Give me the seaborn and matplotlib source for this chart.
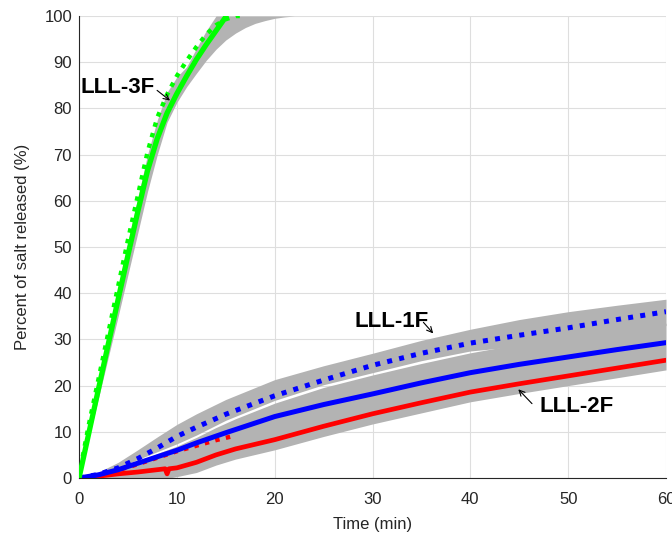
import numpy as np
import pandas as pd
import matplotlib
matplotlib.use("Agg")
import matplotlib.pyplot as plt
import seaborn as sns

# ---------------- data ----------------
t_green = [0, 1, 2, 3, 4, 5, 6, 7, 8, 9, 10, 11, 12, 13, 14, 15]
green_solid = [0, 9.7, 19.4, 29.1, 38.7, 48.2, 57.6, 66.5, 73.5, 79.0, 83.2, 87.0, 90.6, 93.8, 96.8, 99.8]

t_green_d = [0, 0.5, 1, 2, 3, 4, 5, 6, 7, 8, 9, 10, 11, 12, 13, 14, 15, 16, 17]
green_dash = [0, 6, 11.5, 21.5, 31.5, 41.5, 51.5, 61, 70.5, 78.0, 83.0, 87.0, 90.3, 93.3, 96, 98, 99.3, 100, 100]

t_gband = list(range(0, 24))
gband_upper = [0, 10.8, 21.2, 31.2, 41.2, 51.0, 60.6, 70.0, 77.5, 83.5, 86.8, 89.0, 93.0, 96.8,
               100, 100, 100, 100, 100, 100, 100, 100, 100, 100]
gband_lower = [0, 8.7, 17.4, 26.2, 35.0, 44.0, 53.0, 62.0, 70.0, 77.0, 81.3, 84.7, 87.6, 90.4,
               92.8, 94.8, 96.3, 97.5, 98.4, 99.0, 99.5, 99.8, 100, 100]

t_low = [0, 2, 4, 6, 8, 10, 12, 15, 20, 25, 30, 35, 40, 45, 50, 55, 60]
blue_solid = [0, 0.7, 1.8, 3.2, 4.6, 6.0, 7.6, 9.8, 13.3, 15.9, 18.2, 20.6, 22.8, 24.6, 26.2, 27.8, 29.3]
blue_dash = [0, 0.8, 2.2, 4.2, 6.5, 9.0, 11.0, 13.8, 17.8, 21.2, 24.4, 27.0, 29.2, 30.9, 32.5, 34.3, 36.0]
bandA_upper = [0, 1.3, 3.4, 6.1, 8.9, 11.6, 13.9, 17.0, 21.3, 24.3, 27.0, 29.8, 32.2, 34.3, 36.0, 37.4, 38.7]
bandA_lower = [0, 0.5, 2.2, 4.0, 5.7, 7.4, 9.3, 12.5, 16.8, 20.2, 22.8, 25.4, 27.5, 28.5, 30.0, 31.5, 33.0]
bandB_upper = [0, 0.4, 2.0, 3.6, 5.3, 6.9, 8.8, 12.0, 16.2, 19.6, 22.3, 24.8, 27.1, 29.0, 30.5, 32.0, 33.5]

t_red = [0, 2, 4, 6, 8, 8.8, 9.0, 9.2, 10, 12, 14, 16, 18, 20, 25, 30, 35, 40, 45, 50, 55, 60]
red_solid = [0, 0.4, 0.9, 1.3, 1.8, 2.0, 0.9, 2.0, 2.2, 3.4, 5.0, 6.3, 7.3, 8.3, 11.2, 13.9, 16.3,
             18.6, 20.4, 22.1, 23.8, 25.5]
bandB_lower = [0, 0, 0, 0, 0, 0, 0, 0, 0.3, 1.2, 2.8, 4.1, 5.1, 6.1, 9.0, 11.7, 14.1,
               16.5, 18.3, 20.0, 21.7, 23.4]

t_red_d = [0, 2, 4, 6, 8, 10, 12, 14, 16]
red_dash = [0, 0.6, 1.7, 3.0, 4.4, 5.8, 7.0, 8.2, 9.2]

labels = ["LLL-3F", "LLL-1F", "LLL-2F"]
x_ticks = [0, 10, 20, 30, 40, 50, 60]
y_ticks = [0, 10, 20, 30, 40, 50, 60, 70, 80, 90, 100]

# ---------------- styling ----------------
sns.set_style("white")
plt.rcParams["font.family"] = ["Liberation Sans", "DejaVu Sans"]
axis_col = "#262626"
gray = "#b3b3b3"

fig = plt.figure(figsize=(6.72, 5.35), dpi=100)
ax = fig.add_axes([0.1176, 0.1065, 0.8735, 0.8636])

# gray bands
ax.fill_between(t_gband, gband_lower, gband_upper, color=gray, lw=0, zorder=1)
ax.fill_between(t_low, bandA_lower, bandA_upper, color=gray, lw=0, zorder=1)
tB = np.array(t_red, dtype=float)
bandB_up_i = np.interp(tB, t_low, bandB_upper)
ax.fill_between(tB, bandB_lower, bandB_up_i, color=gray, lw=0, zorder=1)

dot = (0, (1, 1.45))

def line(t, y, color, ls, lw, z):
    df = pd.DataFrame({"t": t, "y": y})
    sns.lineplot(data=df, x="t", y="y", ax=ax, color=color, lw=lw,
                 estimator=None, sort=False, zorder=z)
    ax.lines[-1].set_linestyle(ls)

line(t_red_d, red_dash, "#ff0000", dot, 3.2, 2)
line(t_green_d, green_dash, "#00ff00", dot, 3.2, 2)
line(t_red, red_solid, "#ff0000", "-", 3.4, 3)
line(t_low, blue_solid, "#0000ff", "-", 3.6, 4)
line(t_low, blue_dash, "#0000ff", dot, 3.6, 5)
line(t_green, green_solid, "#00ff00", "-", 3.8, 6)

# annotations
txt_kw = dict(fontsize=16, fontweight="bold", color="black", ha="left", va="center", zorder=10)
ax.text(0.15, 84.5, labels[0], **txt_kw)
ax.text(28.2, 33.9, labels[1], **txt_kw)
ax.text(47.1, 15.5, labels[2], **txt_kw)
arr = dict(arrowstyle="->", lw=0.8, color="black", shrinkA=0, shrinkB=0)
ax.annotate("", xy=(9.3, 81.7), xytext=(7.98, 83.9), arrowprops=arr, zorder=10)
ax.annotate("", xy=(36.2, 31.3), xytext=(35.2, 33.7), arrowprops=arr, zorder=10)
ax.annotate("", xy=(44.9, 19.2), xytext=(46.3, 16.1), arrowprops=arr, zorder=10)

ax.set_xlim(0, 60)
ax.set_ylim(0, 100)
ax.set_xticks(x_ticks)
ax.set_yticks(y_ticks)
ax.grid(True, color="#dedede", lw=0.8)
ax.set_axisbelow(True)
ax.tick_params(direction="in", length=4, width=0.8, colors=axis_col, labelsize=12,
               labelcolor=axis_col, top=False, right=False)
ax.tick_params(axis="x", pad=10)
ax.tick_params(axis="y", pad=5)
for s in ["top", "right"]:
    ax.spines[s].set_visible(False)
for s in ["left", "bottom"]:
    ax.spines[s].set_color(axis_col)
    ax.spines[s].set_linewidth(0.8)
ax.set_xlabel("Time (min)", fontsize=12, color=axis_col, labelpad=7)
ax.set_ylabel("Percent of salt released (%)", fontsize=12, color=axis_col, labelpad=10)

fig.savefig("out.png", dpi=100)
